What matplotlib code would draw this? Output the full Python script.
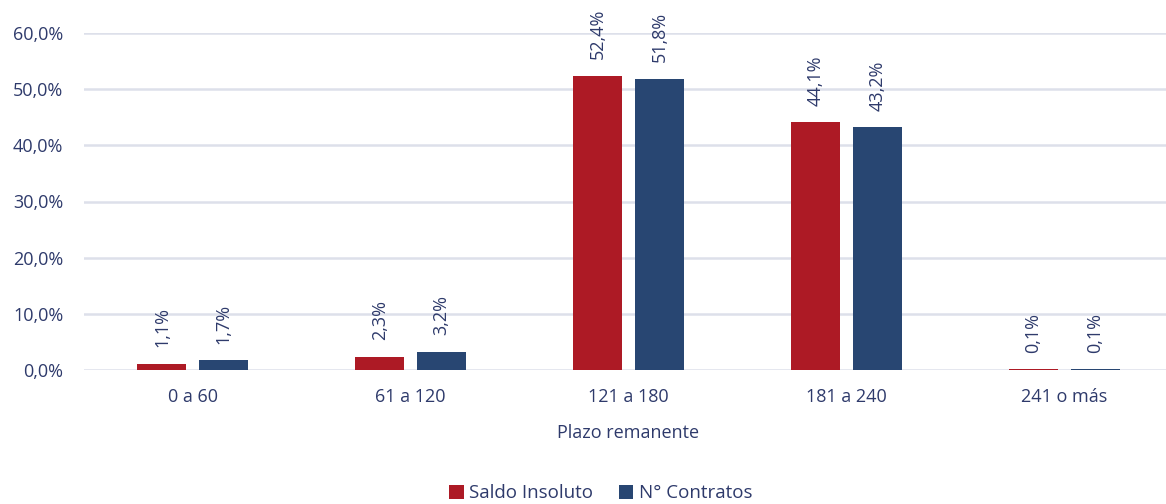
import numpy as np
import matplotlib
matplotlib.use('Agg')
import matplotlib.pyplot as plt
from matplotlib.ticker import FuncFormatter

plt.rcParams['font.family'] = ['Open Sans', 'DejaVu Sans']

# data
categorias = ['0 a 60', '61 a 120', '121 a 180', '181 a 240', '241 o más']
saldo_insoluto = [1.1, 2.3, 52.4, 44.1, 0.1]
n_contratos = [1.7, 3.2, 51.8, 43.2, 0.1]
series_names = ['Saldo Insoluto', 'N° Contratos']

rojo = '#ad1a25'
azul = '#284672'
texto = '#2e3a6b'
grilla = '#dde0ea'

fig = plt.figure(figsize=(11.66, 5.04), dpi=100)
ax = fig.add_axes([84/1166, 1-370/504, 1089/1166, 337/504])

x = np.arange(len(categorias))
w = 0.225
off = 0.142

b1 = ax.bar(x - off, saldo_insoluto, w, color=rojo, label=series_names[0], zorder=3)
b2 = ax.bar(x + off, n_contratos, w, color=azul, label=series_names[1], zorder=3)

# value labels, rotated
for bars, vals in ((b1, saldo_insoluto), (b2, n_contratos)):
    for rect, v in zip(bars, vals):
        ax.annotate(('%.1f%%' % v).replace('.', ','),
                    (rect.get_x() + rect.get_width()/2, rect.get_height()),
                    xytext=(0, 12), textcoords='offset points',
                    rotation=90, ha='center', va='bottom',
                    fontsize=13, color=texto)

ax.set_xlim(-0.5, 4.5)
ax.set_ylim(0, 60)
ax.set_yticks(np.arange(0, 61, 10))
ax.yaxis.set_major_formatter(FuncFormatter(lambda v, p: ('%.1f%%' % v).replace('.', ',')))
ax.set_xticks(x)
ax.set_xticklabels(categorias)

ax.grid(axis='y', color=grilla, linewidth=1.8, zorder=0)
for s in ax.spines.values():
    s.set_visible(False)
ax.tick_params(axis='y', length=0, pad=15, labelsize=13, labelcolor=texto)
ax.tick_params(axis='x', length=0, pad=13, labelsize=13, labelcolor=texto)
ax.set_xlabel('Plazo remanente', fontsize=13, color=texto, labelpad=13)

fig.legend(loc='lower center', bbox_to_anchor=(601/1166, -0.03), ncol=2,
           frameon=False, fontsize=13.5, labelcolor=texto,
           handlelength=0.75, handleheight=0.75, handletextpad=0.3, columnspacing=1.4)

fig.savefig('out.png', dpi=100)
